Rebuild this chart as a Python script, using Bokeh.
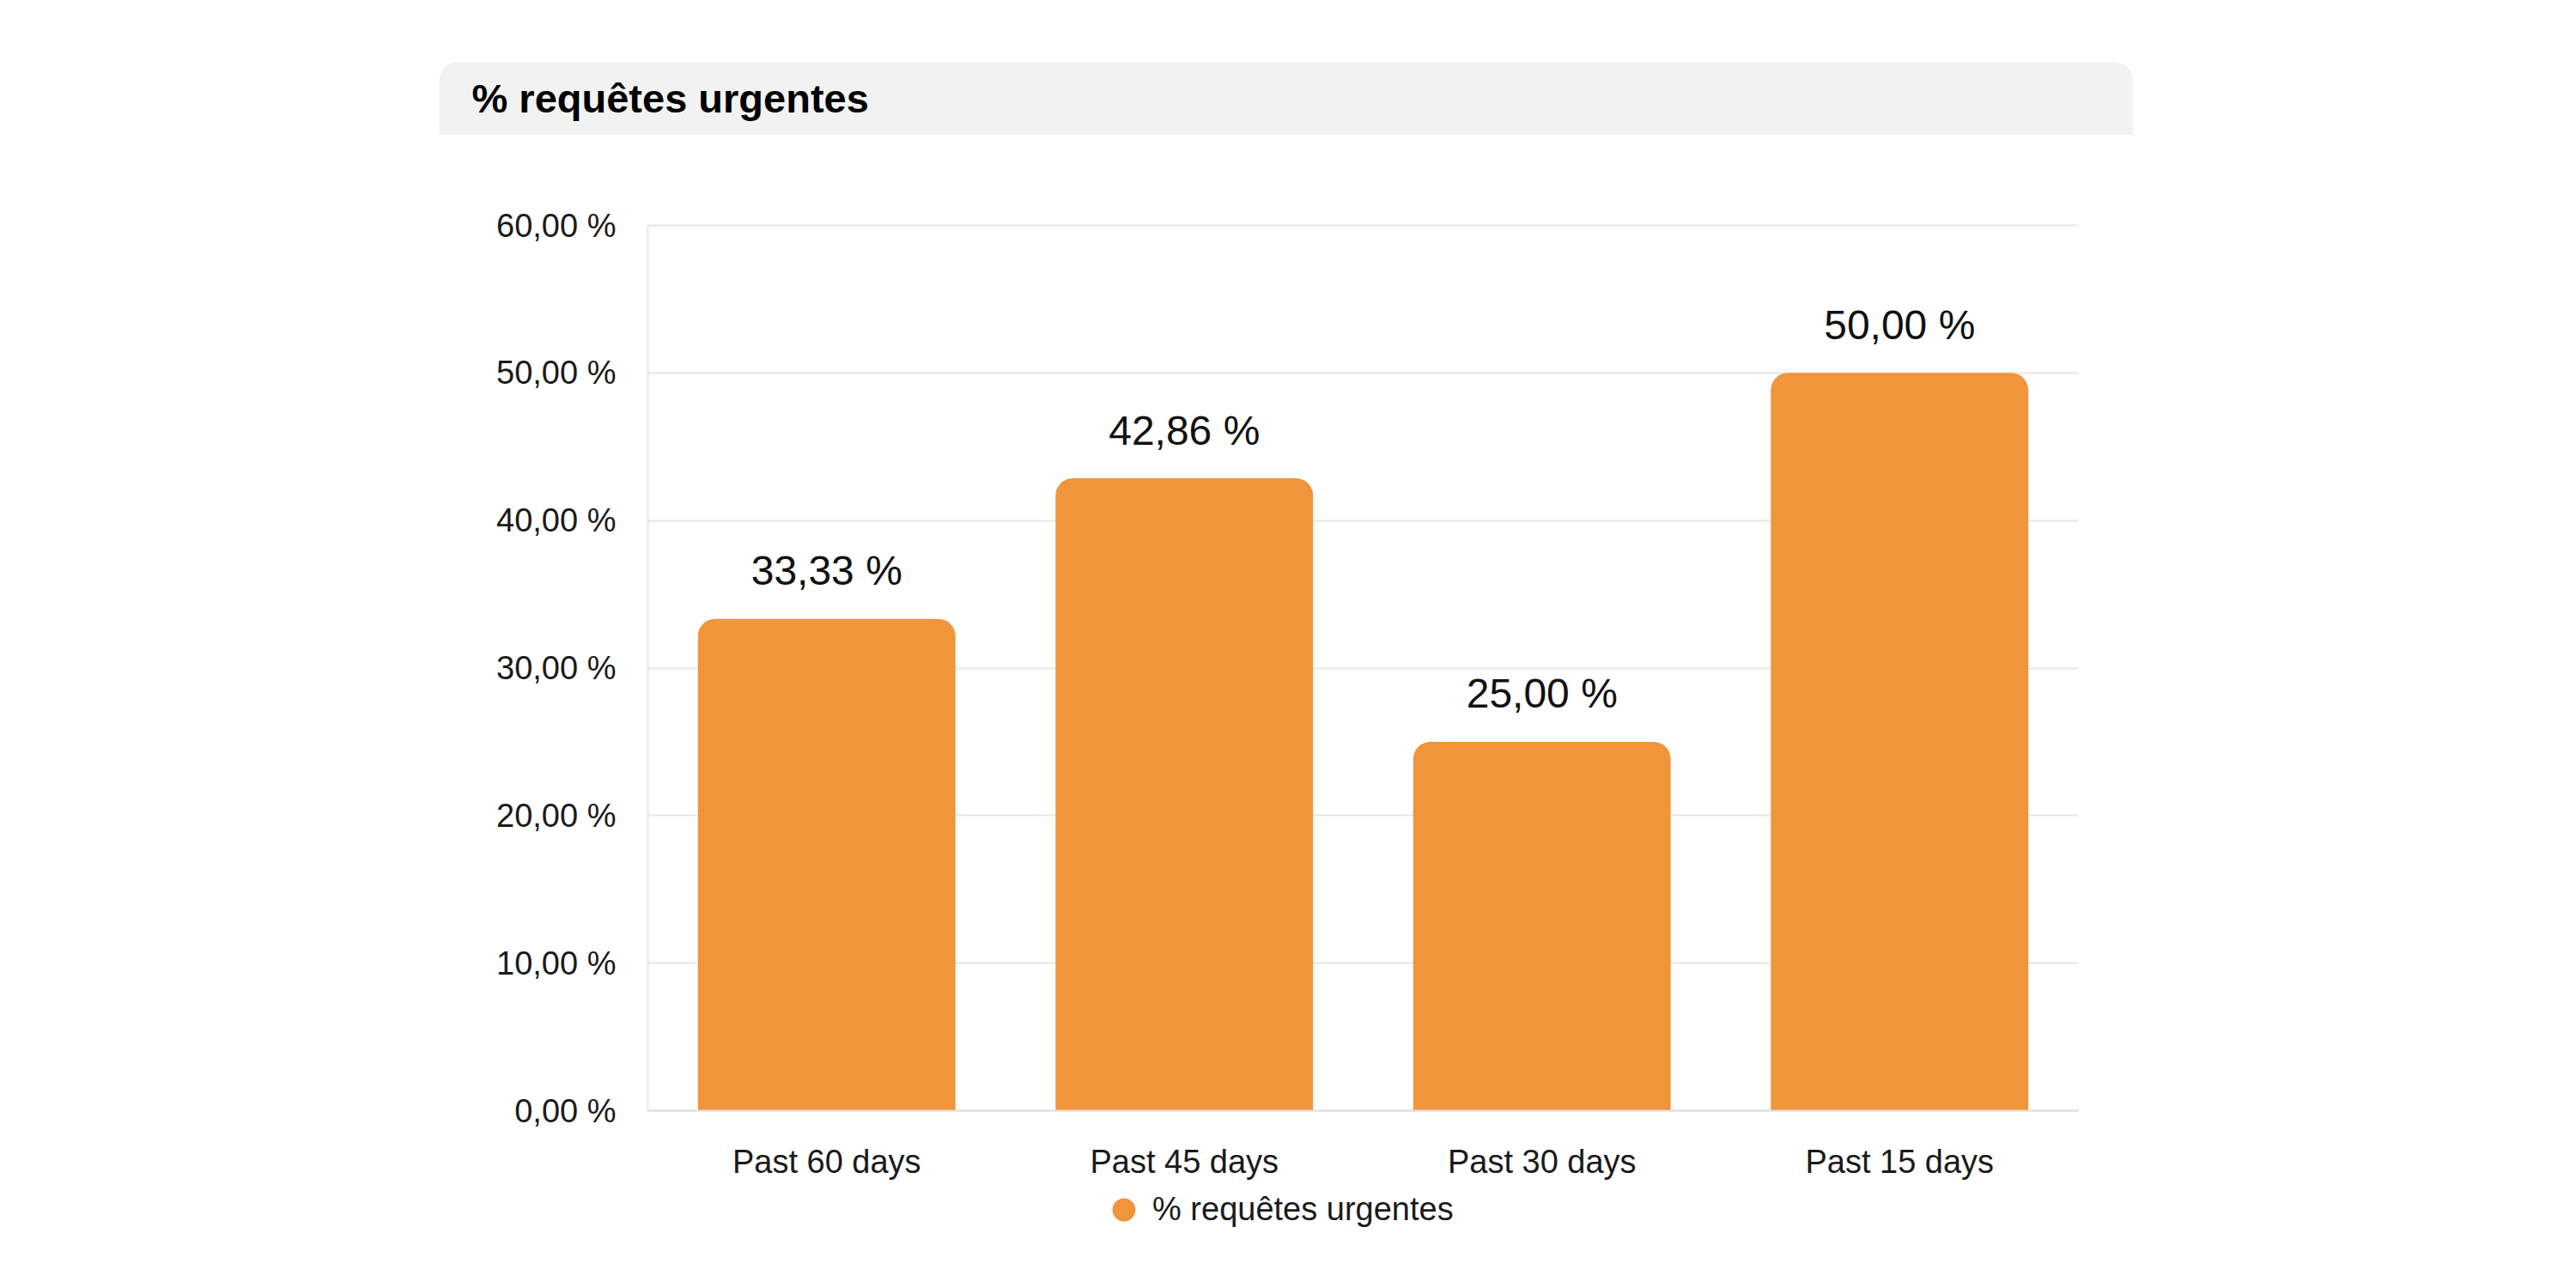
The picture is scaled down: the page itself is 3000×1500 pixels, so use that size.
from bokeh.plotting import figure
from bokeh.models import (Range1d, FixedTicker, Label, Legend, LegendItem,
                          ColumnDataSource, Grid)
from bokeh.core.properties import value
from bokeh.embed import file_html
from bokeh.resources import INLINE

# ---- data ----
categories = ["Past 60 days", "Past 45 days", "Past 30 days", "Past 15 days"]
percent_urgent = [33.33, 42.86, 25.00, 50.00]
y_ticks = [0, 10, 20, 30, 40, 50, 60]
y_tick_labels = ["0,00 %", "10,00 %", "20,00 %", "30,00 %", "40,00 %", "50,00 %", "60,00 %"]
value_labels = ["33,33 %", "42,86 %", "25,00 %", "50,00 %"]
title_text = "% requêtes urgentes"
series_name = "% requêtes urgentes"

FONT = "Liberation Sans"
ORANGE = "#F0953A"
TEXT = "#1a1a1a"

# ---- canvas geometry (pixels) ----
W, H = 2984, 1484
PL, PR, PT, PB = 754, 2420, 262, 1293      # plot area edges
n = len(categories)
ymax = y_ticks[-1]
ux = (PR - PL) / n            # px per category
uy = (PB - PT) / ymax         # px per percent

x_range = Range1d(-PL / ux, n + (W - PR) / ux)
y_range = Range1d(-(H - PB) / uy, ymax + PT / uy)

cat_pos = [i + 0.5 for i in range(n)]
src = ColumnDataSource(dict(x=cat_pos, val=percent_urgent, lab=value_labels))

p = figure(width=W, height=H, x_range=x_range, y_range=y_range,
           output_backend="svg", toolbar_location=None,
           min_border=0, min_border_left=0, min_border_right=0,
           min_border_top=0, min_border_bottom=0,
           outline_line_color=None, title=None)

p.vbar(x="x", top="val", width=0.72, source=src, fill_color=ORANGE,
       line_color=None,
       border_radius=dict(top_left=20, top_right=20, bottom_right=0, bottom_left=0))

p.text(x="x", y="val", text="lab", source=src, text_align="center",
       text_baseline="alphabetic", y_offset=-56, text_font=value(FONT),
       text_font_size="48px", text_color="#111111")

# ---- axes at fixed locations ----
yt = FixedTicker(ticks=y_ticks)
yax = p.yaxis[0]
yax.fixed_location = 0
yax.bounds = (0, ymax)
yax.ticker = yt
yax.major_label_overrides = {t: l for t, l in zip(y_ticks, y_tick_labels)}
yax.major_tick_line_color = None
yax.minor_tick_line_color = None
yax.axis_line_color = "#E6E6E6"
yax.axis_line_width = 2
yax.major_label_standoff = 31
yax.major_label_text_font = FONT
yax.major_label_text_font_size = "38px"
yax.major_label_text_color = TEXT

xax = p.xaxis[0]
xax.fixed_location = 0
xax.bounds = (0, n)
xax.ticker = FixedTicker(ticks=cat_pos)
xax.major_label_overrides = {x: c for x, c in zip(cat_pos, categories)}
xax.major_tick_line_color = None
xax.minor_tick_line_color = None
xax.axis_line_color = "#E0E0E0"
xax.axis_line_width = 2
xax.major_label_standoff = 32
xax.major_label_text_font = FONT
xax.major_label_text_font_size = "38px"
xax.major_label_text_color = TEXT

# ---- grid ----
p.xgrid.visible = False
yg = p.ygrid[0]
if "cross_bounds" in Grid.properties():
    yg.ticker = yt
    yg.bounds = (0, ymax)
    yg.cross_bounds = (0, n)
    yg.grid_line_color = "#E6E6E6"
    yg.grid_line_width = 2
else:
    yg.visible = False
    p.segment(x0=[0] * len(y_ticks), x1=[n] * len(y_ticks), y0=y_ticks, y1=y_ticks,
              line_color="#E6E6E6", line_width=2, level="underlay")

# ---- legend (circle swatch drawn by the legend itself) ----
r = p.scatter(x="x", y="val", source=src, size=0, marker="circle",
              fill_color=ORANGE, line_color=None)
legend = Legend(items=[LegendItem(label=series_name, renderers=[r])],
                location=(1275, 42), glyph_width=67, glyph_height=67,
                label_standoff=0, padding=0, margin=0, spacing=0,
                border_line_color=None, background_fill_alpha=0,
                label_text_font=FONT, label_text_font_size="38px",
                label_text_color=TEXT)
p.add_layout(legend)

# ---- title bar ----
title = Label(x=511, y=H - 114, x_units="screen", y_units="screen",
              text=title_text, text_font=FONT, text_font_style="bold",
              text_font_size="47px", text_color="#000000",
              text_baseline="middle", text_align="left",
              background_fill_color="#F2F2F2",
              padding=dict(left=38, right=1472, top=16, bottom=16),
              border_radius=dict(top_left=22, top_right=22, bottom_right=0, bottom_left=0))
p.add_layout(title)

open("out.html", "w").write(file_html(p, INLINE))
